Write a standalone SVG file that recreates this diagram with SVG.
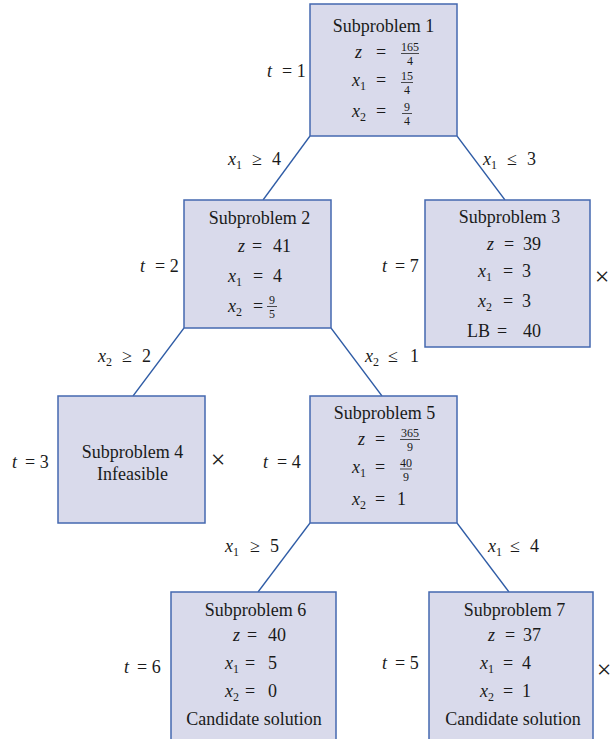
<svg xmlns="http://www.w3.org/2000/svg" width="613" height="739" viewBox="0 0 613 739">
<style>
.box{fill:#d9daeb;stroke:#4468b0;stroke-width:1.5}
.ln{stroke:#2f5ca6;stroke-width:1.3;fill:none}
.bar{stroke:#222;stroke-width:0.8}
text{font-family:"Liberation Serif","Times New Roman",serif;font-size:18px;fill:#1a1a1a}
.i{font-style:italic}
.s{font-size:12px}
.f{font-size:12px;text-anchor:middle}
.c{text-anchor:middle}
.x{font-size:26px;text-anchor:middle}
</style>
<rect width="613" height="739" fill="#ffffff"/>
<g id="connectors">
<line class="ln" x1="310" y1="136" x2="263" y2="200"/>
<line class="ln" x1="457" y1="136" x2="505" y2="200"/>
<line class="ln" x1="184" y1="328" x2="133" y2="396"/>
<line class="ln" x1="331" y1="328" x2="382" y2="396"/>
<line class="ln" x1="310" y1="523" x2="258" y2="592"/>
<line class="ln" x1="457" y1="523" x2="509" y2="592"/>
<text class="i" x="228" y="165">x</text><text class="s" x="236" y="169">1</text><text x="252" y="165">≥</text><text x="272" y="165">4</text>
<text class="i" x="483" y="165">x</text><text class="s" x="491" y="169">1</text><text x="507" y="165">≤</text><text x="527" y="165">3</text>
<text class="i" x="98" y="362">x</text><text class="s" x="106" y="366">2</text><text x="122" y="362">≥</text><text x="142" y="362">2</text>
<text class="i" x="365" y="362">x</text><text class="s" x="373" y="366">2</text><text x="388" y="362">≤</text><text x="410" y="362">1</text>
<text class="i" x="225" y="552">x</text><text class="s" x="233" y="556">1</text><text x="250" y="552">≥</text><text x="270" y="552">5</text>
<text class="i" x="488" y="552">x</text><text class="s" x="496" y="556">1</text><text x="510" y="552">≤</text><text x="530" y="552">4</text>
</g>
<g id="sub1">
<rect class="box" x="310" y="4" width="147" height="132"/>
<text class="c" x="383.5" y="32">Subproblem 1</text>
<text class="i" x="355" y="58">z</text><text x="376" y="58">=</text>
<text class="f" x="410" y="51">165</text><line class="bar" x1="401" y1="53.5" x2="419" y2="53.5"/><text class="f" x="410" y="65">4</text>
<text class="i" x="352" y="86">x</text><text class="s" x="360" y="90">1</text><text x="376" y="86">=</text>
<text class="f" x="407" y="80">15</text><line class="bar" x1="401" y1="82.5" x2="413" y2="82.5"/><text class="f" x="407" y="94">4</text>
<text class="i" x="352" y="117">x</text><text class="s" x="360" y="121">2</text><text x="376" y="117">=</text>
<text class="f" x="407" y="111">9</text><line class="bar" x1="402" y1="113.5" x2="412" y2="113.5"/><text class="f" x="407" y="125">4</text>
<text class="i" x="267" y="77">t</text><text x="282" y="77">= 1</text>
</g>
<g id="sub2">
<rect class="box" x="184" y="200" width="147" height="128"/>
<text class="c" x="259.5" y="224">Subproblem 2</text>
<text class="i" x="238" y="252">z</text><text x="252" y="252">=</text><text x="273" y="252">41</text>
<text class="i" x="228" y="282">x</text><text class="s" x="236" y="286">1</text><text x="253" y="282">=</text><text x="273" y="282">4</text>
<text class="i" x="228" y="312">x</text><text class="s" x="236" y="316">2</text><text x="253" y="312">=</text>
<text class="f" x="272" y="304">9</text><line class="bar" x1="267" y1="306.5" x2="277" y2="306.5"/><text class="f" x="272" y="318">5</text>
<text class="i" x="140" y="272">t</text><text x="155" y="272">= 2</text>
</g>
<g id="sub3">
<rect class="box" x="425" y="200" width="165" height="147"/>
<text class="c" x="509.5" y="223">Subproblem 3</text>
<text class="i" x="487" y="250">z</text><text x="504" y="250">=</text><text x="523" y="250">39</text>
<text class="i" x="478" y="277">x</text><text class="s" x="486" y="281">1</text><text x="503" y="277">=</text><text x="522" y="277">3</text>
<text class="i" x="478" y="307">x</text><text class="s" x="486" y="311">2</text><text x="503" y="307">=</text><text x="522" y="307">3</text>
<text x="467" y="337">LB</text><text x="497" y="337">=</text><text x="523" y="337">40</text>
<text class="i" x="382" y="272">t</text><text x="395" y="272">= 7</text>
<text class="x" x="602" y="285">×</text>
</g>
<g id="sub4">
<rect class="box" x="58" y="396" width="147" height="127"/>
<text class="c" x="132.5" y="458">Subproblem 4</text>
<text class="c" x="132.5" y="480">Infeasible</text>
<text class="i" x="12" y="468">t</text><text x="25" y="468">= 3</text>
<text class="x" x="218" y="468">×</text>
</g>
<g id="sub5">
<rect class="box" x="310" y="396" width="147" height="127"/>
<text class="c" x="384.5" y="419">Subproblem 5</text>
<text class="i" x="358" y="445">z</text><text x="375" y="445">=</text>
<text class="f" x="410" y="437">365</text><line class="bar" x1="400" y1="439.5" x2="420" y2="439.5"/><text class="f" x="410" y="451">9</text>
<text class="i" x="352" y="473">x</text><text class="s" x="360" y="477">1</text><text x="375" y="473">=</text>
<text class="f" x="406" y="466.5">40</text><line class="bar" x1="400" y1="469" x2="412" y2="469"/><text class="f" x="406" y="480.5">9</text>
<text class="i" x="352" y="505">x</text><text class="s" x="360" y="509">2</text><text x="375" y="505">=</text><text x="397" y="505">1</text>
<text class="i" x="263" y="468">t</text><text x="277" y="468">= 4</text>
</g>
<g id="sub6">
<rect class="box" x="171" y="592" width="165" height="160"/>
<text class="c" x="255.5" y="616">Subproblem 6</text>
<text class="i" x="233" y="641">z</text><text x="247" y="641">=</text><text x="268" y="641">40</text>
<text class="i" x="225" y="669">x</text><text class="s" x="233" y="673">1</text><text x="245" y="669">=</text><text x="268" y="669">5</text>
<text class="i" x="225" y="697">x</text><text class="s" x="233" y="701">2</text><text x="245" y="697">=</text><text x="268" y="697">0</text>
<text class="c" x="254" y="725">Candidate solution</text>
<text class="i" x="124" y="673">t</text><text x="137" y="673">= 6</text>
</g>
<g id="sub7">
<rect class="box" x="429" y="592" width="164" height="160"/>
<text class="c" x="514.5" y="616">Subproblem 7</text>
<text class="i" x="488" y="641">z</text><text x="505" y="641">=</text><text x="523" y="641">37</text>
<text class="i" x="480" y="669">x</text><text class="s" x="488" y="673">1</text><text x="503" y="669">=</text><text x="522" y="669">4</text>
<text class="i" x="480" y="697">x</text><text class="s" x="488" y="701">2</text><text x="503" y="697">=</text><text x="522" y="697">1</text>
<text class="c" x="513" y="725">Candidate solution</text>
<text class="i" x="382" y="669">t</text><text x="395" y="669">= 5</text>
<text class="x" x="604" y="678">×</text>
</g>
</svg>
